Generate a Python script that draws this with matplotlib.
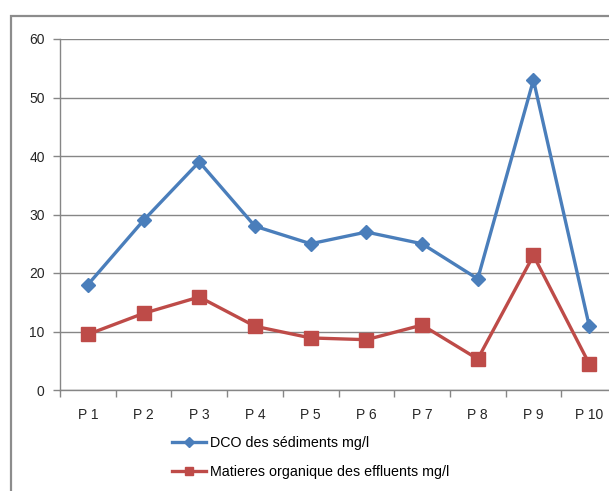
import matplotlib
matplotlib.use("Agg")
import matplotlib.pyplot as plt
from matplotlib.patches import Rectangle
from matplotlib.lines import Line2D

categories = ["P 1", "P 2", "P 3", "P 4", "P 5", "P 6", "P 7", "P 8", "P 9", "P 10"]
dco_sediments = [18, 29, 39, 28, 25, 27, 25, 19, 53, 11]
matieres_organiques = [9.5, 13.1, 15.9, 10.9, 8.9, 8.6, 11.1, 5.3, 23, 4.5]
y_ticks = [0, 10, 20, 30, 40, 50, 60]

label_dco = "DCO des sédiments mg/l"
label_mo = "Matieres organique des effluents mg/l"

blue = "#4A7EBB"
red = "#BE4B48"
grid_gray = "#868686"
text_color = "#262626"

plt.rcParams["font.family"] = ["Liberation Sans", "DejaVu Sans"]

W, H = 609, 491
fig = plt.figure(figsize=(W / 100, H / 100), dpi=100)

# outer chart frame (runs off the right and bottom edges)
fig.patches.append(Rectangle((11 / W, -0.05), 1.2, (H - 16) / H + 0.05,
                             transform=fig.transFigure, fill=False,
                             edgecolor="#8C8C8C", linewidth=1.6, clip_on=False))

ax_left, ax_right = 60, 617
ax_top, ax_bottom = 39, 390
ax = fig.add_axes([ax_left / W, (H - ax_bottom) / H,
                   (ax_right - ax_left) / W, (ax_bottom - ax_top) / H])

x = list(range(len(categories)))
ax.plot(x, dco_sediments, color=blue, linewidth=2.4, marker="D",
        markersize=7, markeredgecolor=blue, zorder=3, clip_on=False)
ax.plot(x, matieres_organiques, color=red, linewidth=2.4, marker="s",
        markersize=9.5, markeredgecolor=red, zorder=3, clip_on=False)

ax.set_xlim(-0.5, len(categories) - 0.5)
ax.set_ylim(0, 60)
ax.set_yticks(y_ticks)
ax.set_yticklabels([str(v) for v in y_ticks], fontsize=10, color=text_color)
ax.yaxis.grid(True, color=grid_gray, linewidth=1.0)
ax.set_axisbelow(True)

# category labels centred between boundary ticks
ax.set_xticks(x)
ax.set_xticklabels(categories, fontsize=10, color=text_color)
ax.tick_params(axis="x", length=0, pad=13)
ax.set_xticks([i - 0.5 for i in range(len(categories) + 1)], minor=True)
ax.tick_params(axis="x", which="minor", length=5, color=grid_gray, width=1)
ax.tick_params(axis="y", length=5, color=grid_gray, width=1, pad=6,
               direction="out")

for side in ("top", "right"):
    ax.spines[side].set_visible(False)
for side in ("left", "bottom"):
    ax.spines[side].set_color(grid_gray)
    ax.spines[side].set_linewidth(1.0)

handles = [
    Line2D([], [], color=blue, linewidth=2.4, marker="D", markersize=5),
    Line2D([], [], color=red, linewidth=2.4, marker="s", markersize=6),
]
fig.legend(handles, [label_dco, label_mo], loc="upper left",
           bbox_to_anchor=(166 / W, 1 - 430 / H), frameon=False,
           fontsize=10.3, handlelength=2.4, handletextpad=0.3,
           labelspacing=1.05, borderaxespad=0)

fig.savefig("out.png", dpi=100)
